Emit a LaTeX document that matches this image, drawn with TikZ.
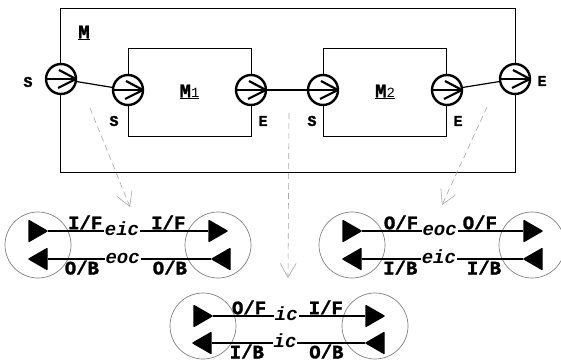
\documentclass[tikz,border=0pt]{standalone}
\usepackage{fontspec}
\setmonofont{Liberation Mono}[BoldFeatures={FakeBold=1.5}]
\usetikzlibrary{positioning, arrows.meta, calc, shapes.geometric}

\begin{document}
\begin{tikzpicture}[
  x=1pt, y=-1pt,
  font=\ttfamily\bfseries\fontsize{19}{21}\selectfont,
  % Module boxes
  modbox/.style={draw, rectangle, line width=0.8pt, minimum width=123pt, minimum height=88pt},
  % Ports on the boxes
  port/.style={circle, draw, fill=white, line width=2.4pt, minimum size=30pt, inner sep=0pt,
    path picture={
      \draw[line width=2.2pt] (path picture bounding box.west) -- (path picture bounding box.east);
      \draw[line width=2.2pt] ([shift={(-2pt,9pt)}]path picture bounding box.center) -- (path picture bounding box.east) -- ([shift={(-3pt,-9pt)}]path picture bounding box.center);
    }},
  portlbl/.style={font=\ttfamily\bfseries\fontsize{15}{17}\selectfont, inner sep=0pt},
  link/.style={draw, line width=1.2pt},
  % Coupling pairs
  ring/.style={circle, draw=gray, line width=0.7pt, minimum size=66pt, inner sep=0pt},
  tri/.style={regular polygon, regular polygon sides=3, shape border rotate=-90, fill, draw, line join=round, line width=1.4pt, minimum size=24pt, inner sep=0pt},
  tril/.style={tri, shape border rotate=90},
  pipe/.style={draw, line width=1.2pt},
  chan/.style={fill=white, inner sep=1pt, anchor=mid, yshift=-2pt, font=\ttfamily\bfseries\itshape\fontsize{19}{21}\selectfont},
  sigup/.style={above, inner sep=1pt},
  sigdn/.style={below, inner sep=1pt},
  % Dashed hints
  hint/.style={draw=gray!70, line width=0.6pt, dash pattern=on 6pt off 4pt, -{Straight Barb[length=14pt, width=16pt]}}
]
  \useasboundingbox (0,0) rectangle (561,361);

  % ==========================================
  % MODULE M WITH M1 AND M2
  % ==========================================
  \node[draw, line width=0.8pt, minimum width=455pt, minimum height=164pt] (M) at (287.5,90) {};
  \node (Mlbl) at (84,33) {\underline{M}};
  \node[modbox] (M1) at (189.5,92) {\underline{M{\mdseries\fontsize{14}{14}\selectfont 1}}};
  \node[modbox] (M2) at (385,92) {\underline{M{\mdseries\fontsize{14}{14}\selectfont 2}}};

  % Ports
  \node[port] (oS) at (61,79) {};
  \node[port] (m1S) at (128,90) {};
  \node[port] (m1E) at (251,90) {};
  \node[port] (m2S) at (323,90) {};
  \node[port] (m2E) at (447,90) {};
  \node[port] (oE) at (515,79) {};

  % Port labels
  \node[portlbl] (oSlbl) at (28,82) {S};
  \node[portlbl] (m1Slbl) at (114,121) {S};
  \node[portlbl] (m1Elbl) at (263,121) {E};
  \node[portlbl] (m2Slbl) at (312,121) {S};
  \node[portlbl] (m2Elbl) at (458,121) {E};
  \node[portlbl] (oElbl) at (542,81) {E};

  % Links
  \draw[link] (oS) -- (m1S);
  \draw[link] (m1E) -- (m2S);
  \draw[link] (m2E) -- (oE);

  % ==========================================
  % COUPLINGS
  % ==========================================
  % eic
  \node[ring] (eicL) at (38,245) {};
  \node[ring] (eicR) at (218,245) {};
  \node[tri] (eicLT) at (35,231) {};
  \node[tril] (eicLB) at (41,259) {};
  \node[tri] (eicRT) at (215,231) {};
  \node[tril] (eicRB) at (224,259) {};
  \draw[pipe] (eicLT) -- node[sigup, pos=0.23] {I/F} node[chan, pos=0.46] {eic} node[sigup, pos=0.75] {I/F} (eicRT);
  \draw[pipe] (eicLB) -- node[sigdn, pos=0.21] {O/B} node[chan, pos=0.46] {eoc} node[sigdn, pos=0.75] {O/B} (eicRB);

  % eoc
  \node[ring] (eocL) at (352,245) {};
  \node[ring] (eocR) at (532,245) {};
  \node[tri] (eocLT) at (349,231) {};
  \node[tril] (eocLB) at (355,259) {};
  \node[tri] (eocRT) at (530,231) {};
  \node[tril] (eocRB) at (536,259) {};
  \draw[pipe] (eocLT) -- node[sigup, pos=0.24] {O/F} node[chan, pos=0.48] {eoc} node[sigup, pos=0.73] {O/F} (eocRT);
  \draw[pipe] (eocLB) -- node[sigdn, pos=0.24] {I/B} node[chan, pos=0.48] {eic} node[sigdn, pos=0.76] {I/B} (eocRB);

  % ic
  \node[ring] (icL) at (203,326) {};
  \node[ring] (icR) at (375,326) {};
  \node[tri] (icLT) at (200,316) {};
  \node[tril] (icLB) at (205,343) {};
  \node[tri] (icRT) at (372,316) {};
  \node[tril] (icRB) at (378,343) {};
  \draw[pipe] (icLT) -- node[sigup, pos=0.235] {O/F} node[chan, pos=0.48] {ic} node[sigup, pos=0.74] {I/F} (icRT);
  \draw[pipe] (icLB) -- node[sigdn, pos=0.23] {I/B} node[chan, pos=0.48] {ic} node[sigdn, pos=0.75] {O/B} (icRB);

  % Hints
  \coordinate (h1a) at (90,108);
  \coordinate (h1b) at (130,207);
  \coordinate (h2a) at (289,113);
  \coordinate (h2b) at (288,278);
  \coordinate (h3a) at (487,107);
  \coordinate (h3b) at (442,205);
  \draw[hint] (h1a) -- (h1b);
  \draw[hint] (h2a) -- (h2b);
  \draw[hint] (h3a) -- (h3b);

\end{tikzpicture}
\end{document}
